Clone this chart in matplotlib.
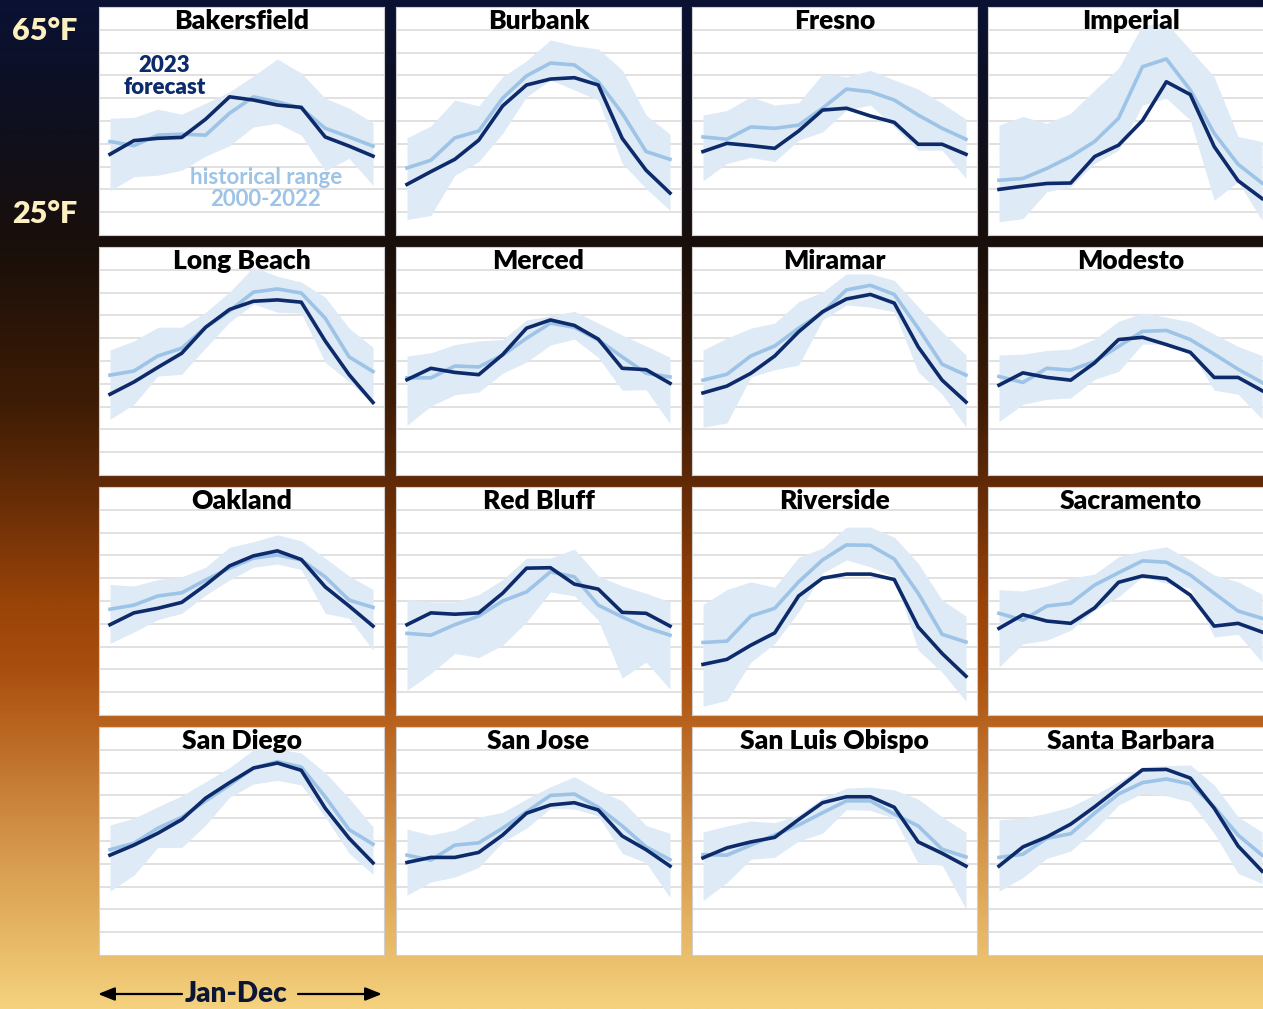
import numpy as np
import matplotlib
matplotlib.use('Agg')
import matplotlib.pyplot as plt
from matplotlib.colors import LinearSegmentedColormap

plt.rcParams['font.family'] = ['Lato', 'DejaVu Sans']

# data (°F)
months = ['Jan', 'Feb', 'Mar', 'Apr', 'May', 'Jun', 'Jul', 'Aug', 'Sep', 'Oct', 'Nov', 'Dec']
cities = ['Bakersfield', 'Burbank', 'Fresno', 'Imperial',
          'Long Beach', 'Merced', 'Miramar', 'Modesto',
          'Oakland', 'Red Bluff', 'Riverside', 'Sacramento',
          'San Diego', 'San Jose', 'San Luis Obispo', 'Santa Barbara']

forecast = [
    [37.7, 40.7, 41.2, 41.4, 45.4, 50.3, 49.6, 48.5, 48.0, 41.5, 39.5, 37.3],
    [31.1, 33.9, 36.6, 40.8, 48.3, 52.9, 54.2, 54.5, 52.9, 41.2, 34.2, 29.2],
    [38.3, 40.1, 39.6, 39.0, 42.8, 47.4, 47.8, 46.1, 44.7, 39.9, 39.9, 37.7],
    [30.0, 30.7, 31.3, 31.4, 37.2, 39.7, 45.1, 53.6, 50.8, 39.4, 31.9, 28.0],
    [37.7, 40.4, 43.6, 46.7, 52.4, 56.3, 58.1, 58.4, 57.9, 49.4, 42.0, 35.9],
    [40.9, 43.4, 42.5, 42.0, 46.4, 52.2, 54.0, 52.8, 49.8, 43.4, 43.1, 40.1],
    [38.0, 39.5, 42.3, 46.1, 51.4, 55.8, 58.6, 59.6, 57.7, 48.1, 40.8, 36.0],
    [39.7, 42.4, 41.4, 40.8, 44.6, 49.7, 50.2, 48.6, 46.9, 41.4, 41.4, 38.5],
    [39.8, 42.4, 43.4, 44.7, 48.5, 52.7, 54.9, 56.0, 54.1, 48.1, 43.9, 39.5],
    [39.8, 42.4, 42.1, 42.4, 46.7, 52.2, 52.3, 48.7, 47.6, 42.5, 42.3, 39.5],
    [31.1, 32.2, 35.3, 38.0, 46.1, 50.0, 50.9, 50.9, 49.7, 39.3, 33.5, 28.5],
    [39.0, 42.0, 40.6, 40.1, 43.5, 49.1, 50.5, 49.9, 46.3, 39.5, 40.1, 38.2],
    [41.9, 44.1, 46.7, 49.7, 54.4, 57.8, 61.0, 62.1, 60.5, 52.2, 45.6, 40.2],
    [40.3, 41.4, 41.4, 42.5, 46.3, 51.1, 52.9, 53.4, 51.8, 46.1, 43.1, 39.5],
    [41.3, 43.5, 44.8, 45.8, 49.7, 53.4, 54.7, 54.7, 52.4, 44.8, 42.3, 39.5],
    [39.5, 43.7, 45.9, 48.7, 52.5, 56.6, 60.6, 60.7, 58.8, 52.2, 43.9, 38.4],
]

hist_mean = [
    [40.5, 39.6, 41.9, 42.1, 41.9, 46.7, 50.3, 49.2, 47.8, 43.4, 41.5, 39.5],
    [34.7, 36.4, 41.3, 42.8, 50.0, 54.9, 57.7, 57.3, 53.6, 46.7, 38.3, 36.6],
    [41.5, 41.0, 43.7, 43.4, 44.1, 47.8, 52.0, 51.4, 49.6, 46.3, 43.4, 41.0],
    [32.0, 32.4, 34.6, 37.2, 40.5, 45.6, 56.9, 58.6, 51.8, 42.3, 35.5, 31.4],
    [41.9, 42.8, 46.1, 47.8, 52.4, 56.0, 60.1, 60.8, 59.9, 54.4, 45.9, 42.7],
    [41.3, 41.3, 43.9, 43.7, 46.3, 50.0, 53.3, 52.4, 49.6, 45.9, 42.3, 41.5],
    [40.8, 42.1, 46.1, 48.3, 52.2, 55.6, 60.6, 61.6, 59.6, 52.2, 44.3, 41.9],
    [41.6, 40.3, 43.4, 43.0, 44.9, 48.2, 51.5, 51.7, 49.7, 46.5, 43.2, 40.3],
    [43.2, 44.1, 46.1, 46.8, 49.6, 52.2, 54.4, 55.1, 54.0, 50.3, 45.2, 43.6],
    [37.9, 37.5, 39.8, 41.7, 45.0, 47.0, 51.4, 50.3, 44.1, 41.5, 39.2, 37.5],
    [35.9, 36.2, 41.7, 43.4, 49.2, 54.0, 57.3, 57.2, 54.2, 46.7, 37.7, 36.0],
    [42.3, 40.8, 43.9, 44.5, 48.5, 51.2, 53.8, 53.5, 50.7, 46.7, 42.8, 41.2],
    [43.1, 44.5, 47.8, 50.2, 53.8, 57.3, 61.0, 62.4, 61.2, 54.7, 47.5, 44.3],
    [41.9, 40.8, 44.1, 44.6, 47.8, 51.4, 55.0, 55.3, 52.4, 48.3, 43.7, 40.9],
    [42.0, 41.9, 44.1, 46.3, 48.5, 51.2, 53.8, 53.8, 50.9, 48.3, 43.2, 41.5],
    [41.4, 42.1, 45.6, 46.6, 51.1, 55.3, 57.8, 58.6, 57.5, 52.5, 46.3, 41.9],
]

hist_high = [
    [45.6, 45.8, 47.6, 46.5, 48.9, 51.4, 54.9, 58.6, 55.5, 50.0, 47.8, 44.6],
    [41.3, 43.9, 49.6, 48.3, 54.7, 58.2, 62.8, 61.5, 60.8, 56.2, 46.3, 42.1],
    [46.3, 47.3, 50.3, 48.5, 49.0, 55.3, 54.7, 56.1, 54.0, 52.0, 48.9, 45.4],
    [44.1, 46.0, 44.5, 46.7, 51.8, 56.6, 66.0, 66.5, 60.6, 54.7, 41.6, 40.5],
    [47.4, 49.4, 52.4, 52.4, 55.7, 60.1, 65.6, 63.6, 62.3, 59.0, 52.2, 48.0],
    [46.1, 46.8, 48.6, 49.4, 49.7, 54.0, 54.9, 55.9, 53.3, 50.7, 48.3, 45.8],
    [47.4, 50.0, 52.2, 53.3, 58.0, 60.1, 64.1, 64.1, 62.7, 56.9, 51.4, 46.3],
    [46.3, 46.5, 47.3, 47.6, 49.8, 53.7, 55.5, 54.6, 53.6, 50.9, 48.2, 46.2],
    [48.6, 48.3, 49.7, 50.3, 52.4, 56.8, 58.0, 59.5, 58.2, 54.4, 50.5, 47.5],
    [45.4, 44.8, 44.8, 46.4, 49.7, 54.4, 54.4, 56.4, 50.5, 48.3, 46.7, 44.8],
    [44.2, 47.5, 49.2, 48.0, 54.6, 56.6, 61.2, 61.2, 59.0, 53.3, 45.2, 41.7],
    [47.5, 47.2, 48.3, 50.0, 50.9, 54.7, 56.0, 56.9, 54.0, 50.7, 49.2, 46.5],
    [48.5, 50.0, 52.5, 54.9, 58.0, 61.1, 65.0, 65.2, 64.3, 60.0, 54.4, 48.1],
    [47.6, 46.3, 47.4, 50.2, 51.3, 54.2, 56.9, 59.1, 56.1, 53.8, 48.4, 46.7],
    [47.0, 48.3, 49.4, 49.0, 50.7, 54.4, 56.6, 56.8, 56.2, 54.2, 50.3, 46.9],
    [49.7, 50.0, 51.1, 52.5, 55.1, 58.0, 61.3, 61.5, 61.7, 57.3, 50.3, 47.0],
]

hist_low = [
    [29.7, 32.8, 33.1, 34.2, 37.3, 39.6, 43.7, 44.5, 41.9, 34.1, 36.8, 30.9],
    [23.4, 24.3, 33.1, 36.1, 42.3, 50.3, 54.0, 51.8, 49.6, 35.7, 30.2, 25.4],
    [31.9, 35.7, 37.0, 36.1, 40.8, 42.6, 47.4, 48.5, 43.7, 38.6, 38.6, 32.4],
    [22.9, 23.6, 29.5, 30.6, 35.7, 38.6, 48.5, 50.0, 45.2, 27.6, 31.7, 23.2],
    [32.2, 35.5, 41.7, 42.1, 47.9, 53.5, 57.5, 55.7, 55.5, 44.7, 40.5, 35.5],
    [30.9, 35.1, 37.6, 38.2, 42.3, 44.8, 48.5, 49.8, 45.8, 38.6, 38.7, 31.3],
    [30.5, 31.4, 41.5, 43.1, 44.1, 54.0, 57.3, 56.8, 55.8, 42.6, 37.7, 30.5],
    [31.7, 35.5, 36.6, 36.9, 41.0, 42.7, 48.7, 48.7, 47.3, 38.6, 37.7, 32.3],
    [35.7, 38.2, 40.9, 42.3, 46.3, 49.6, 52.4, 53.1, 51.9, 42.3, 41.2, 34.2],
    [25.4, 29.1, 33.5, 32.6, 35.3, 40.4, 47.0, 46.1, 40.8, 28.1, 31.6, 25.7],
    [21.9, 23.2, 31.6, 35.7, 42.6, 51.1, 54.0, 52.5, 50.3, 34.2, 29.4, 23.0],
    [30.5, 35.6, 36.4, 38.6, 43.0, 45.9, 50.3, 48.9, 47.8, 37.1, 37.7, 31.6],
    [34.0, 37.5, 43.6, 43.6, 48.5, 54.6, 57.5, 58.3, 57.3, 50.3, 42.3, 37.7],
    [33.1, 36.0, 37.1, 39.2, 44.8, 47.8, 52.2, 52.0, 50.5, 42.3, 40.2, 32.6],
    [31.9, 35.9, 41.0, 41.4, 45.0, 46.7, 51.9, 51.7, 50.0, 40.1, 39.7, 30.1],
    [34.0, 37.0, 41.2, 42.8, 47.4, 52.9, 55.5, 54.9, 53.6, 46.7, 37.9, 35.7],
]

W, H = 1263, 1009
fig = plt.figure(figsize=(W / 100, H / 100), dpi=100)

# gradient background
bg = fig.add_axes([0, 0, 1, 1])
cmap = LinearSegmentedColormap.from_list('sky', [
    (0.00, '#0a1233'), (0.12, '#0f0f1e'), (0.25, '#1a0f0a'),
    (0.40, '#3e1c05'), (0.50, '#6a2e07'), (0.60, '#9a4409'),
    (0.66, '#a84d0e'), (0.72, '#b8641f'), (0.82, '#d08e45'),
    (0.92, '#e5b462'), (1.00, '#f5d27e')])
grad = np.linspace(0, 1, 512).reshape(-1, 1)
bg.imshow(grad, aspect='auto', cmap=cmap, extent=[0, 1, 0, 1], origin='upper')
bg.set_xlim(0, 1)
bg.set_ylim(0, 1)
bg.axis('off')

navy = '#0d2a6a'
light = '#9dc3e6'
band = '#deeaf6'
wt = 'heavy'

col_left = [99, 396, 692, 988]
row_top = [7, 247, 487, 727]
pw, ph = 285, 228
x = np.arange(12)

for i, city in enumerate(cities):
    r, c = divmod(i, 4)
    ax = fig.add_axes([col_left[c] / W, 1 - (row_top[r] + ph) / H, pw / W, ph / H])
    ax.set_facecolor('white')
    for t in range(25, 70, 5):
        ax.axhline(t, color='#d9d9d9', lw=1.1, zorder=1)
    ax.fill_between(x, hist_low[i], hist_high[i], color=band, lw=0, zorder=2)
    ax.plot(x, hist_mean[i], color=light, lw=2.6, zorder=3, solid_joinstyle='round')
    ax.plot(x, forecast[i], color=navy, lw=2.6, zorder=4, solid_joinstyle='round')
    ax.set_xlim(-0.46, 11.46)
    ax.set_ylim(20, 70)
    ax.set_xticks([])
    ax.set_yticks([])
    for s in ax.spines.values():
        s.set_color('#cfcfcf')
        s.set_linewidth(0.8)
    ax.text(0.5, 0.905, city, transform=ax.transAxes, ha='center', va='baseline',
            fontsize=19, fontweight=wt, color='black', zorder=5)
    if i == 0:
        ax.text(0.23, 0.695, '2023\nforecast', transform=ax.transAxes, ha='center',
                va='center', fontsize=16, fontweight=wt, color=navy,
                linespacing=1.05, zorder=5)
        ax.text(0.585, 0.205, 'historical range\n2000-2022', transform=ax.transAxes,
                ha='center', va='center', fontsize=16, fontweight='bold', color=light,
                linespacing=1.05, zorder=5)

cream = '#fdf0c0'
fig.text(12 / W, 1 - 31 / H, '65°F', ha='left', va='center', fontsize=22,
         fontweight=wt, color=cream)
fig.text(12 / W, 1 - 214 / H, '25°F', ha='left', va='center', fontsize=22,
         fontweight=wt, color=cream)

# Jan-Dec arrows
yarr = 1 - 994 / H
fig.text(236 / W, yarr, 'Jan-Dec', ha='center', va='center', fontsize=20,
         fontweight=wt, color='#0a1633')
arrow = dict(arrowstyle='-|>,head_length=1.0,head_width=0.4', color='black', lw=1.6,
             shrinkA=0, shrinkB=0)
bg.annotate('', xy=(98 / W, yarr), xytext=(182 / W, yarr), xycoords='figure fraction',
            arrowprops=arrow)
bg.annotate('', xy=(382 / W, yarr), xytext=(298 / W, yarr), xycoords='figure fraction',
            arrowprops=arrow)

fig.savefig('out.png', dpi=100)
